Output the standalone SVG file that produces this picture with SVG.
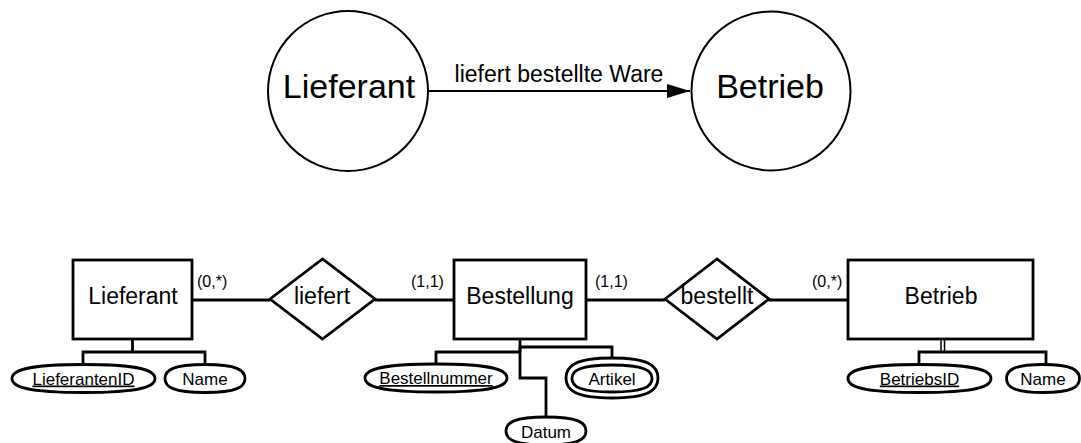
<svg xmlns="http://www.w3.org/2000/svg" width="1081" height="443" viewBox="0 0 1081 443">
  <style>
    .shape { fill: #ffffff; stroke: #000000; stroke-width: 2.8; }
    .circle { fill: #ffffff; stroke: #000000; stroke-width: 2; }
    .line { fill: none; stroke: #000000; stroke-width: 2.8; }
    .arrowline { fill: none; stroke: #000000; stroke-width: 2; }
    text { font-family: "Liberation Sans", Arial, sans-serif; fill: #000000; text-anchor: middle; }
    .big { font-size: 34px; }
    .label { font-size: 23px; }
    .attr { font-size: 17px; }
    .card { font-size: 16px; text-anchor: start; }
    .key { text-decoration: underline; }
  </style>
  <defs>
    <marker id="arrowhead" markerWidth="24" markerHeight="16" refX="23" refY="7" orient="auto" markerUnits="userSpaceOnUse">
      <path d="M0,0 L23,7 L0,14 Z" fill="#000000"/>
    </marker>
  </defs>

  <rect width="1081" height="443" fill="#ffffff"/>

  <!-- Overview: supplier delivers to business -->
  <g id="connectors-top">
    <line class="arrowline" x1="428" y1="91" x2="690" y2="91" marker-end="url(#arrowhead)"/>
    <text class="label" x="559" y="82">liefert bestellte Ware</text>
  </g>
  <g id="circle-lieferant">
    <ellipse class="circle" cx="348" cy="91" rx="80" ry="80"/>
    <text class="big" x="349" y="98">Lieferant</text>
  </g>
  <g id="circle-betrieb">
    <ellipse class="circle" cx="771" cy="91" rx="79.5" ry="79.5"/>
    <text class="big" x="770" y="98">Betrieb</text>
  </g>

  <!-- ER model connectors -->
  <g id="connectors">
    <line class="line" x1="192" y1="300" x2="270" y2="300"/>
    <line class="line" x1="375" y1="300" x2="454" y2="300"/>
    <line class="line" x1="586" y1="300" x2="665" y2="300"/>
    <line class="line" x1="769" y1="300" x2="848" y2="300"/>

    <!-- Lieferant attributes -->
    <polyline class="line" points="132.5,339 132.5,352"/>
    <polyline class="line" points="83,365 83,352 205,352 205,365"/>

    <!-- Bestellung attributes -->
    <polyline class="line" points="520,339 520,352"/>
    <polyline class="line" points="436,364 436,352 520,352"/>
    <polyline class="line" points="520,347 612,347 612,358"/>
    <polyline class="line" points="520,347 520,378 546,378 546,417"/>

    <!-- Betrieb attributes -->
    <line class="line" style="stroke-width:1.5" x1="941" y1="339" x2="941" y2="352"/>
    <line class="line" style="stroke-width:1.5" x1="944.5" y1="339" x2="944.5" y2="352"/>
    <polyline class="line" points="919,364 919,352 1046,352 1046,364"/>

    <text class="card" x="197" y="287">(0,*)</text>
    <text class="card" x="411" y="287">(1,1)</text>
    <text class="card" x="595" y="287">(1,1)</text>
    <text class="card" x="812" y="287">(0,*)</text>
  </g>

  <g id="entity-lieferant">
    <rect class="shape" x="73" y="260" width="119" height="79"/>
    <text class="label" x="133" y="304">Lieferant</text>
  </g>
  <g id="relation-liefert">
    <polygon class="shape" points="270,299 322.5,259 375,299 322.5,339"/>
    <text class="label" x="322" y="304">liefert</text>
  </g>
  <g id="entity-bestellung">
    <rect class="shape" x="454" y="260" width="132" height="79"/>
    <text class="label" x="520" y="304">Bestellung</text>
  </g>
  <g id="relation-bestellt">
    <polygon class="shape" points="665,299 717,259 769,299 717,339"/>
    <text class="label" x="717" y="304">bestellt</text>
  </g>
  <g id="entity-betrieb">
    <rect class="shape" x="848" y="260" width="185" height="79"/>
    <text class="label" x="941" y="304">Betrieb</text>
  </g>

  <!-- attribute pills: flattened ellipses -->
  <g id="attr-lieferantenid">
    <path class="shape" d="M12,378.5 C12,370.1 26.3,364.5 83.5,364.5 C140.7,364.5 155,370.1 155,378.5 C155,386.9 140.7,392.5 83.5,392.5 C26.3,392.5 12,386.9 12,378.5 Z"/>
    <text class="attr key" x="83.5" y="384.5">LieferantenID</text>
  </g>
  <g id="attr-lieferant-name">
    <path class="shape" d="M165,378.5 C165,370.1 173,364.5 205,364.5 C237,364.5 245,370.1 245,378.5 C245,386.9 237,392.5 205,392.5 C173,392.5 165,386.9 165,378.5 Z"/>
    <text class="attr" x="205" y="384.5">Name</text>
  </g>
  <g id="attr-bestellnummer">
    <path class="shape" d="M365,378 C365,369.6 379.2,364 436,364 C492.8,364 507,369.6 507,378 C507,386.4 492.8,392 436,392 C379.2,392 365,386.4 365,378 Z"/>
    <text class="attr key" x="436" y="384">Bestellnummer</text>
  </g>
  <g id="attr-artikel">
    <path class="shape" d="M566,378 C566,366 575.2,358 612,358 C648.8,358 658,366 658,378 C658,390 648.8,398 612,398 C575.2,398 566,390 566,378 Z"/>
    <path class="shape" d="M572,378.5 C572,370.4 580,365 612,365 C644,365 652,370.4 652,378.5 C652,386.6 644,392 612,392 C580,392 572,386.6 572,378.5 Z"/>
    <text class="attr" x="612" y="384.5">Artikel</text>
  </g>
  <g id="attr-datum">
    <path class="shape" d="M506,431 C506,422.6 514,417 546,417 C578,417 586,422.6 586,431 C586,439.4 578,445 546,445 C514,445 506,439.4 506,431 Z"/>
    <text class="attr" x="546" y="437.5">Datum</text>
  </g>
  <g id="attr-betriebsid">
    <path class="shape" d="M848,378.5 C848,370.1 862.3,364.5 919.5,364.5 C976.7,364.5 991,370.1 991,378.5 C991,386.9 976.7,392.5 919.5,392.5 C862.3,392.5 848,386.9 848,378.5 Z"/>
    <text class="attr key" x="919.5" y="384.5">BetriebsID</text>
  </g>
  <g id="attr-betrieb-name">
    <path class="shape" d="M1006.5,378.5 C1006.5,370.1 1013.8,364.5 1043,364.5 C1072.2,364.5 1079.5,370.1 1079.5,378.5 C1079.5,386.9 1072.2,392.5 1043,392.5 C1013.8,392.5 1006.5,386.9 1006.5,378.5 Z"/>
    <text class="attr" x="1043" y="384.5">Name</text>
  </g>
</svg>
